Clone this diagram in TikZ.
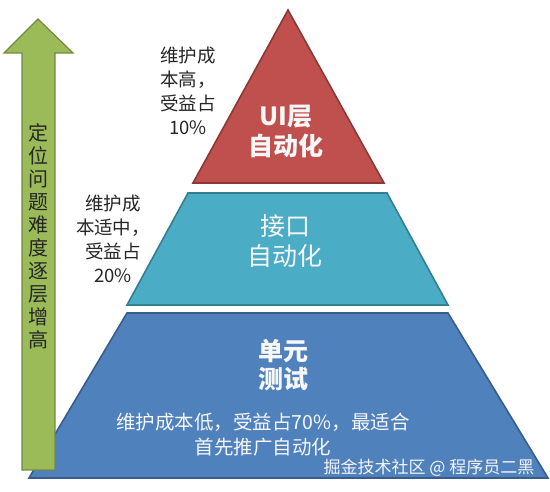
\documentclass[tikz,border=0pt]{standalone}
\usepackage{fontspec}
\setmainfont{Noto Sans CJK SC}
\usetikzlibrary{positioning}

\definecolor{uired}{HTML}{C0504D}
\definecolor{uiedge}{HTML}{8C3836}
\definecolor{apiteal}{HTML}{4BACC6}
\definecolor{apiedge}{HTML}{357D91}
\definecolor{unitblue}{HTML}{4F81BD}
\definecolor{unitedge}{HTML}{385D8A}
\definecolor{arrowgreen}{HTML}{9BBB59}
\definecolor{arrowedge}{HTML}{71893F}
\definecolor{labelgray}{HTML}{262626}

\tikzset{
  layer/.style={line width=1.6pt, line join=miter},
  title/.style={align=center, text=white!94!gray, font=\fontsize{25}{30}\selectfont},
  sidenote/.style={align=center, text=labelgray, font=\fontsize{18.5}{24}\selectfont},
}

\begin{document}
\begin{tikzpicture}[x=1pt, y=-1pt]
    \useasboundingbox (0,0) rectangle (550,492);

    % Pyramid layers
    \filldraw[layer, fill=unitblue, draw=unitedge] (29,478) -- (127,313) -- (448,313) -- (548,478) -- cycle;
    \filldraw[layer, fill=apiteal, draw=apiedge] (127,305) -- (188,193) -- (387,193) -- (448,305) -- cycle;
    \filldraw[layer, fill=uired, draw=uiedge] (193,183) -- (288,10) -- (384,183) -- cycle;

    % Difficulty arrow
    \filldraw[line width=1.2pt, fill=arrowgreen, draw=arrowedge]
        (22,470) -- (22,53) -- (4,53) -- (38,19) -- (73,53) -- (55,53) -- (55,470) -- cycle;
    \node[align=center, text=labelgray, font=\fontsize{20}{23}\selectfont] (hard) at (38,236)
        {定\\位\\问\\题\\难\\度\\逐\\层\\增\\高};

    % Layer titles
    \node[title, font=\fontsize{25}{30}\bfseries] (ui) at (286,131) {UI层\\自动化};
    \node[title] (api) at (285,241) {接口\\自动化};
    \node[title, font=\fontsize{25}{28}\bfseries] (unit) at (283,365) {单元\\测试};
    \node[align=center, text=white!94!gray, font=\fontsize{19.5}{25}\selectfont] (unitnote) at (263,435)
        {维护成本低，受益占70\%，最适合\\首先推广自动化};

    % Cost notes
    \node[sidenote] (uinote) at (188,91) {维护成\\本高，\\受益占\\10\%};
    \node[sidenote] (apinote) at (113,239) {维护成\\本适中，\\受益占\\20\%};

    % Watermark
    \node[text=white!92!gray, font=\fontsize{17}{20}\selectfont] (mark) at (429,468) {掘金技术社区 @ 程序员二黑};
\end{tikzpicture}
\end{document}
